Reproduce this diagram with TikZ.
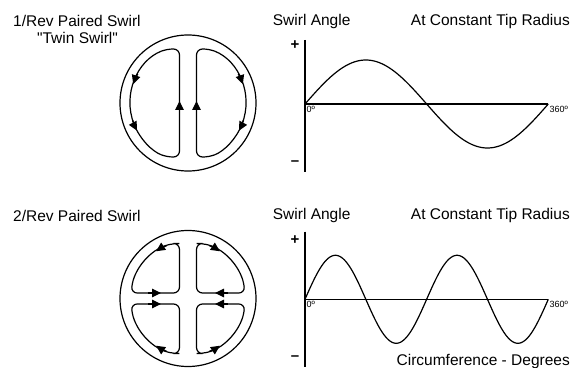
\documentclass[tikz,border=0pt]{standalone}
\usepackage{fontspec}
\setmainfont{Liberation Sans}[Ligatures=TeXOff]
\usetikzlibrary{arrows.meta}
\tikzset{ring/.style={line width=1.2pt},swirl/.style={line width=1.2pt,rounded corners=6pt},curve/.style={line width=1.2pt},axis/.style={line width=1.2pt},flowtip/.style={line width=1.2pt,-{Triangle[length=9pt,width=8.5pt]}},lbl/.style={font=\fontsize{15.5}{18}\selectfont,inner sep=0pt},tick/.style={font=\fontsize{9}{10}\selectfont,inner sep=0pt},sgn/.style={font=\bfseries\fontsize{15}{16}\selectfont,inner sep=0pt}}

\begin{document}
\begin{tikzpicture}[x=1pt,y=1pt]
\useasboundingbox (0,0) rectangle (573,367);
% titles
\node[lbl,anchor=west] (t1) at (13,346) {1/Rev Paired Swirl};
\node[lbl] (t1b) at (77.5,329.5) {"Twin Swirl"};
\node[lbl,anchor=west] (t2) at (13,151.5) {2/Rev Paired Swirl};
% one swirl pair per rev
\coordinate (c1) at (188,264);
\draw[ring] (c1) circle[radius=68];
\begin{scope}[shift={(c1)}]
\foreach \s in {1,-1}{
  \begin{scope}[xscale=\s]
  \draw[swirl] (-8.5,-20) -- (-8.5,54) -- (111.4:58) arc[start angle=111.4,end angle=248.6,radius=58] -- (-8.5,-54) -- cycle;
  \draw[flowtip] (-8.5,-10) -- (-8.5,2);
  \draw[flowtip] (150:58) arc[start angle=150,end angle=161,radius=58];
  \draw[flowtip] (197:58) arc[start angle=197,end angle=208.5,radius=58];
  \end{scope}}
\end{scope}
% two swirl pairs per rev
\coordinate (c2) at (188,68.5);
\draw[ring] (c2) circle[radius=68];
\begin{scope}[shift={(c2)}]
\foreach \s/\t in {1/1,-1/1,1/-1,-1/-1}{
  \begin{scope}[xscale=\s,yscale=\t]
  \draw[swirl] (-40,5.5) -- (-8.5,5.5) -- (-8.5,55) -- (105:57) arc[start angle=105,end angle=174.5,radius=57] -- cycle;
  \draw[flowtip] (-40,5.5) -- (-27,5.5);
  \draw[flowtip] (112:57) arc[start angle=112,end angle=124,radius=57];
  \end{scope}}
\end{scope}
% upper plot
\node[lbl,anchor=west] (a1) at (272.7,346) {Swirl Angle};
\node[lbl,anchor=east] (r1) at (570,346) {At Constant Tip Radius};
\coordinate (o1) at (305,263);
\coordinate (y1t) at (305,327);
\coordinate (y1b) at (305,195);
\coordinate (x1e) at (548.3,263);
\draw[axis] (y1t) -- (y1b);
\draw[axis] (o1) -- (x1e);
\draw[curve,shift={(o1)}] plot[domain=0:360,samples=121,smooth] (\x*0.6758,{44*sin(\x)});
\node[sgn] (p1) at (295,322) {+};
\node[sgn] (m1) at (295,204) {–};
\node[tick,anchor=north west] (z1) at (306.5,261) {0º};
\node[tick,anchor=north west] (e1) at (549.5,261) {360º};
% lower plot
\node[lbl,anchor=west] (a2) at (272.7,152) {Swirl Angle};
\node[lbl,anchor=east] (r2) at (570,152) {At Constant Tip Radius};
\coordinate (o2) at (305,67.7);
\coordinate (y2t) at (305,135.3);
\coordinate (y2b) at (305,0);
\coordinate (x2e) at (548.3,67.7);
\draw[axis] (y2t) -- (y2b);
\draw[axis] (o2) -- (x2e);
\draw[curve,shift={(o2)}] plot[domain=0:360,samples=181,smooth] (\x*0.6758,{44*sin(2*\x)});
\node[sgn] (p2) at (295,127) {+};
\node[sgn] (m2) at (295,9) {–};
\node[tick,anchor=north west] (z2) at (306.5,65.7) {0º};
\node[tick,anchor=north west] (e2) at (549.5,65.7) {360º};
\node[lbl,anchor=east] (cd) at (570,6) {Circumference - Degrees};
\end{tikzpicture}
\end{document}
